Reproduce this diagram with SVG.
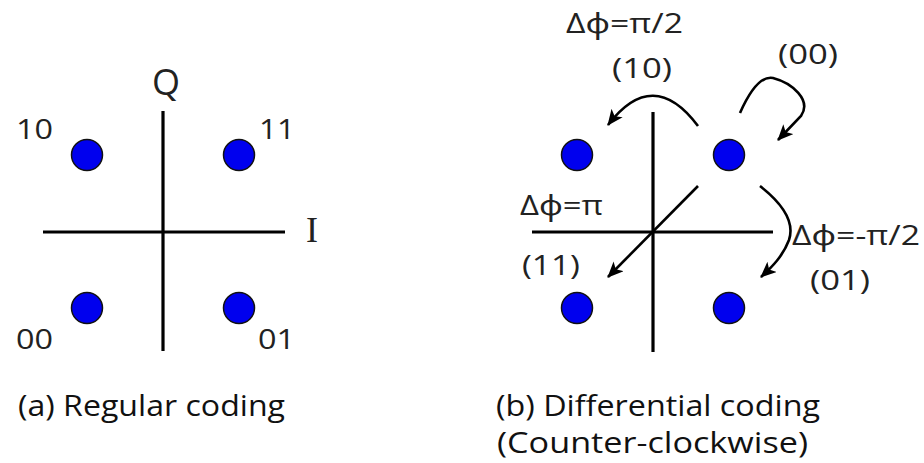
<svg xmlns="http://www.w3.org/2000/svg" width="924" height="463" viewBox="0 0 924 463">
<style>
.ax{stroke:#000;stroke-width:3.2;fill:none}
.pt{fill:#0000ee;stroke:#111;stroke-width:1.5}
.lb{font-family:"Open Sans","Noto Sans",sans-serif;font-size:28px;fill:#222}
.cap{font-family:"Open Sans","Noto Sans",sans-serif;font-size:29px;fill:#111}
.ar{stroke:#000;stroke-width:2.6;fill:none;marker-end:url(#ah)}
</style>
<defs>
<marker id="ah" markerUnits="userSpaceOnUse" markerWidth="16" markerHeight="14" viewBox="0 0 16 14" refX="15" refY="7" orient="auto">
<path d="M0,0 L16,7 L0,14 L4,7 Z" fill="#000"/>
</marker>
</defs>
<rect width="924" height="463" fill="#fff"/>
<g id="plot-a">
<g id="axes-a">
<line class="ax" x1="163" y1="111" x2="163" y2="351"/>
<line class="ax" x1="43" y1="232" x2="285" y2="232"/>
<text x="166" y="95" text-anchor="middle" font-family="'Open Sans','Noto Sans',sans-serif" font-size="36" fill="#222">Q</text>
<text x="312" y="242" text-anchor="middle" font-family="'Liberation Serif',serif" font-size="36" fill="#222">I</text>
</g>
<g id="a-10"><circle class="pt" cx="87" cy="155" r="15.5"/><text class="lb" x="16" y="139" textLength="37" lengthAdjust="spacingAndGlyphs">10</text></g>
<g id="a-11"><circle class="pt" cx="239" cy="155" r="15.5"/><text class="lb" x="259" y="139" textLength="36" lengthAdjust="spacingAndGlyphs">11</text></g>
<g id="a-00"><circle class="pt" cx="87" cy="308" r="15.5"/><text class="lb" x="16" y="349" textLength="37" lengthAdjust="spacingAndGlyphs">00</text></g>
<g id="a-01"><circle class="pt" cx="239" cy="308" r="15.5"/><text class="lb" x="258" y="349" textLength="37" lengthAdjust="spacingAndGlyphs">01</text></g>
<text class="cap" x="18" y="416" textLength="267" lengthAdjust="spacingAndGlyphs">(a) Regular coding</text>
</g>
<g id="plot-b">
<g id="axes-b">
<line class="ax" x1="653" y1="112" x2="653" y2="352"/>
<line class="ax" x1="532" y1="232" x2="773" y2="232"/>
</g>
<g id="b-tl"><circle class="pt" cx="577" cy="155" r="15.5"/></g>
<g id="b-tr"><circle class="pt" cx="729" cy="155" r="15.5"/></g>
<g id="b-bl"><circle class="pt" cx="577" cy="308" r="15.5"/></g>
<g id="b-br"><circle class="pt" cx="729" cy="308" r="15.5"/></g>
<g id="connectors">
<path class="ar" d="M698,126 Q653,66 608,125"/>
<path class="ar" d="M740,113 C752,86 763,76 773,78 C792,83 812,100 801,116 L778,140"/>
<path class="ar" d="M698,186 L608,277"/>
<path class="ar" d="M760,186 C783,204 795,222 789,240 C783,256 772,267 761,277"/>
</g>
<g id="labels-b">
<text class="lb" x="566" y="33" textLength="117" lengthAdjust="spacingAndGlyphs">Δϕ=π/2</text>
<text class="lb" x="612" y="78" textLength="60" lengthAdjust="spacingAndGlyphs">(10)</text>
<text class="lb" x="778" y="64" textLength="60" lengthAdjust="spacingAndGlyphs">(00)</text>
<text class="lb" x="520" y="215" textLength="83" lengthAdjust="spacingAndGlyphs">Δϕ=π</text>
<text class="lb" x="522" y="275" textLength="58" lengthAdjust="spacingAndGlyphs">(11)</text>
<text class="lb" x="792" y="245" textLength="128" lengthAdjust="spacingAndGlyphs">Δϕ=-π/2</text>
<text class="lb" x="810" y="290" textLength="60" lengthAdjust="spacingAndGlyphs">(01)</text>
</g>
<text class="cap" x="496" y="416" textLength="324" lengthAdjust="spacingAndGlyphs">(b) Differential coding</text>
<text class="cap" x="497" y="453" textLength="311" lengthAdjust="spacingAndGlyphs">(Counter-clockwise)</text>
</g>
</svg>
